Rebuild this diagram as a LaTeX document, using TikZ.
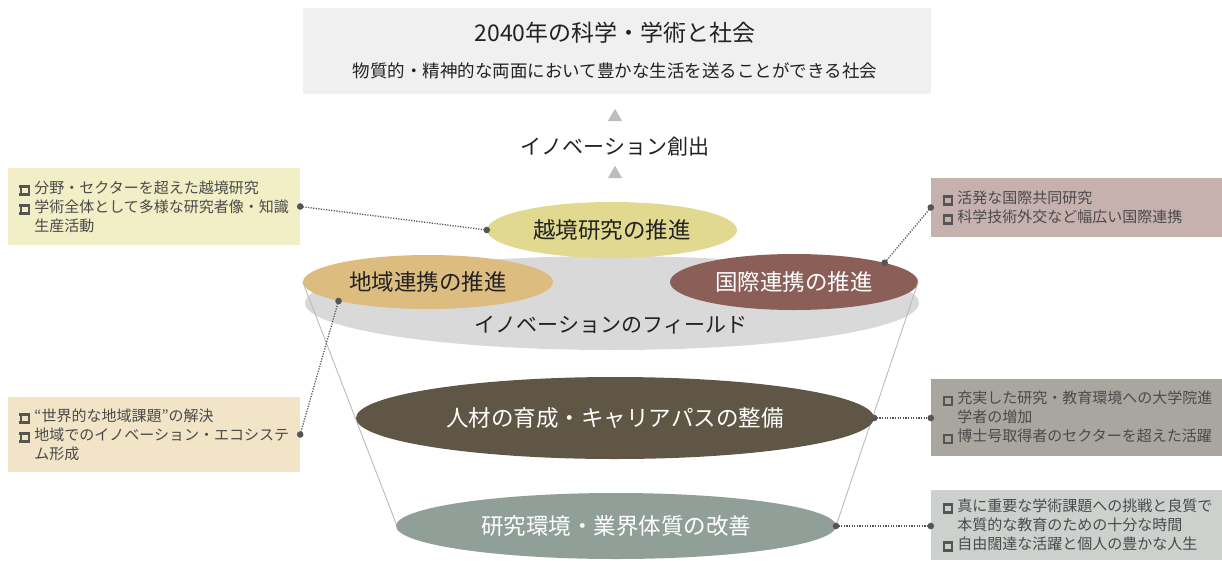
\documentclass[tikz,border=0pt]{standalone}
\usepackage{fontspec}
\setmainfont{Noto Sans CJK JP}
\usetikzlibrary{shapes.geometric}
\definecolor{topf}{HTML}{F0F0F0}
\definecolor{trif}{HTML}{BDBDBD}
\definecolor{yelf}{HTML}{E0D98F}
\definecolor{fieldf}{HTML}{D9D9D9}
\definecolor{tanf}{HTML}{DDBC80}
\definecolor{brnf}{HTML}{8B5F58}
\definecolor{midf}{HTML}{5F5646}
\definecolor{botf}{HTML}{90A099}
\definecolor{lbaf}{HTML}{F2EEC6}
\definecolor{lbbf}{HTML}{F1E4C7}
\definecolor{rbaf}{HTML}{C6B1AF}
\definecolor{rbbf}{HTML}{A9A6A0}
\definecolor{rbcf}{HTML}{CCD1CE}
\definecolor{txtc}{HTML}{4A4A4A}
\definecolor{dotc}{HTML}{555555}
\definecolor{func}{HTML}{BBBBBB}
\definecolor{maintxt}{HTML}{222222}
\newcommand\bsq{\textcolor{dotc}{\setlength\fboxrule{2.4pt}\setlength\fboxsep{0pt}\fbox{\rule{0pt}{5.6pt}\rule{5.6pt}{0pt}}}\hspace{4.5pt}}
\newcommand\bitem[1]{\mbox{\bsq #1}}
\newcommand\bcont[1]{\mbox{\hspace*{14.9pt}#1}}
\tikzset{
  oval/.style={ellipse, inner sep=0pt},
  infobox/.style={rectangle, inner sep=0pt, inner xsep=11.5pt, align=left,
    text=txtc, font=\fontsize{15}{19}\selectfont},
  conn/.style={dotc, line width=1.3pt, dash pattern=on 1.2pt off 1.4pt},
  dotend/.style={fill=dotc},
  funnel/.style={func, line width=0.9pt},
  tri/.style={regular polygon, regular polygon sides=3, fill=trif, inner sep=0pt, minimum size=16.5pt},
  bigtxt/.style={font=\fontsize{22.5}{26}\selectfont}
}
\begin{document}
\begin{tikzpicture}[x=1pt,y=-1pt]
\useasboundingbox (0,0) rectangle (1222,560);
% top box
\node[fill=topf, minimum width=628pt, minimum height=86pt, inner sep=0pt] (top) at (617,51) {};
\node[text=maintxt, font=\fontsize{23}{27}\selectfont] (title) at (615,33) {2040年の科学・学術と社会};
\node[text=maintxt, font=\fontsize{17.5}{21}\selectfont] (sub) at (615,71) {物質的・精神的な両面において豊かな生活を送ることができる社会};
\node[tri] (t1) at (615,117) {};
\node[text=maintxt, font=\fontsize{21}{25}\selectfont] (inno) at (615,147) {イノベーション創出};
\node[tri] (t2) at (615,174) {};
% field
\node[oval, fill=fieldf, minimum width=614pt, minimum height=94pt] (field) at (612,303) {};
\node[text=maintxt, font=\fontsize{21}{25}\selectfont] (fieldtxt) at (611,325) {イノベーションのフィールド};
\node[oval, fill=yelf, minimum width=250pt, minimum height=56pt, text=maintxt, bigtxt] (yel) at (612,230) {越境研究の推進};
\node[oval, fill=tanf, minimum width=250pt, minimum height=54pt, text=maintxt, bigtxt] (tan) at (428,282) {地域連携の推進};
\node[oval, fill=brnf, minimum width=248pt, minimum height=56pt, text=white, bigtxt] (brn) at (794,282) {国際連携の推進};
% funnel
\coordinate (bl) at (397,526);
\coordinate (br) at (836,526);
\draw[funnel] (tan.west) -- (bl);
\draw[funnel] (brn.east) -- (br);
\node[oval, fill=midf, minimum width=518pt, minimum height=82pt, text=white, bigtxt] (mid) at (615,418) {人材の育成・キャリアパスの整備};
\node[oval, fill=botf, minimum width=440pt, minimum height=66pt, text=white, bigtxt] (bot) at (616,526) {研究環境・業界体質の改善};
% info boxes
\node[infobox, fill=lbaf, minimum width=292pt, minimum height=77pt, text width=269pt] (lb1) at (154,206.5)
  {\bitem{分野・セクターを超えた越境研究}\\\bitem{学術全体として多様な研究者像・知識}\\\bcont{生産活動}};
\node[infobox, fill=lbbf, minimum width=292pt, minimum height=75pt, text width=269pt] (lb2) at (154,434.5)
  {\bitem{“世界的な地域課題”の解決}\\\bitem{地域でのイノベーション・エコシステ}\\\bcont{ム形成}};
\node[infobox, fill=rbaf, minimum width=291pt, minimum height=59pt, text width=268pt] (rb1) at (1076.5,207.5)
  {\bitem{活発な国際共同研究}\\\bitem{科学技術外交など幅広い国際連携}};
\node[infobox, fill=rbbf, minimum width=291pt, minimum height=77pt, text width=268pt] (rb2) at (1076.5,417.5)
  {\bitem{充実した研究・教育環境への大学院進}\\\bcont{学者の増加}\\\bitem{博士号取得者のセクターを超えた活躍}};
\node[infobox, fill=rbcf, minimum width=291pt, minimum height=70pt, text width=268pt] (rb3) at (1076.5,525)
  {\bitem{真に重要な学術課題への挑戦と良質で}\\\bcont{本質的な教育のための十分な時間}\\\bitem{自由闊達な活躍と個人の豊かな人生}};
% connectors
\coordinate (ctan) at (tan.192);
\coordinate (cbrn) at (brn.12);
\coordinate (cmid) at (mid.east -| rb2.west);
\coordinate (cbot) at (bot.east -| rb3.west);
\draw[conn] (lb1.east) -- (yel.west);
\draw[conn] (lb2.east) -- (ctan);
\draw[conn] (rb1.west) -- (cbrn);
\draw[conn] (mid.east) -- (cmid);
\draw[conn] (br) -- (cbot);
\foreach \p in {lb1.east, yel.west, lb2.east, ctan, rb1.west, cbrn, mid.east, cmid, br, cbot}
  \fill[dotend] (\p) circle (3.3pt);
\end{tikzpicture}
\end{document}
